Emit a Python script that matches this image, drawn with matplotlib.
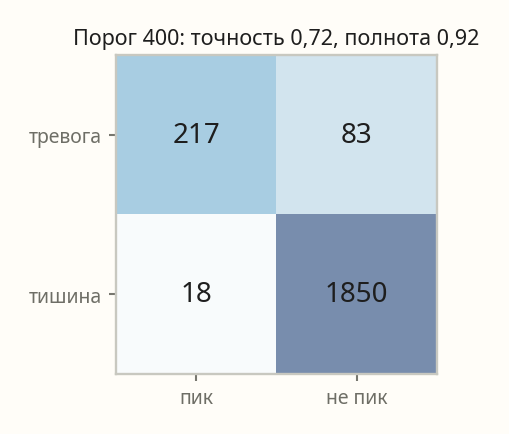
import numpy as np
import matplotlib
matplotlib.use('Agg')
import matplotlib.pyplot as plt
from matplotlib.colors import LinearSegmentedColormap, LogNorm

plt.rcParams['font.family'] = ['Noto Sans', 'DejaVu Sans']

# data
rows = ['тревога', 'тишина']
cols = ['пик', 'не пик']
counts = np.array([[217, 83],
                   [18, 1850]])
title = 'Порог 400: точность 0,72, полнота 0,92'

bg = '#fffdf8'
cmap = LinearSegmentedColormap.from_list(
    'calm', [(0.0, '#f8fbfc'), (0.33, '#d2e4ee'), (0.54, '#a8cde2'), (1.0, '#788dad')])

fig = plt.figure(figsize=(5.1, 4.35), dpi=100, facecolor=bg)
ax = fig.add_axes([0.2275, 0.138, 0.629, 0.733])
ax.imshow(counts, cmap=cmap, norm=LogNorm(vmin=counts.min(), vmax=counts.max()), aspect='auto')

for i in range(counts.shape[0]):
    for j in range(counts.shape[1]):
        ax.text(j, i, str(counts[i, j]), ha='center', va='center', fontsize=20, color='#1e1e1e')

ax.set_xticks(range(len(cols)))
ax.set_xticklabels(cols)
ax.set_yticks(range(len(rows)))
ax.set_yticklabels(rows)
ax.tick_params(colors='#77776f', labelcolor='#6e6e66', labelsize=14, length=5, width=1.5, pad=5)
for s in ax.spines.values():
    s.set_color('#c8c8c0')
    s.set_linewidth(1.7)
ax.set_title(title, fontsize=15.5, color='#1e1e1e', pad=8)

fig.savefig('out.png', dpi=100, facecolor=bg)
